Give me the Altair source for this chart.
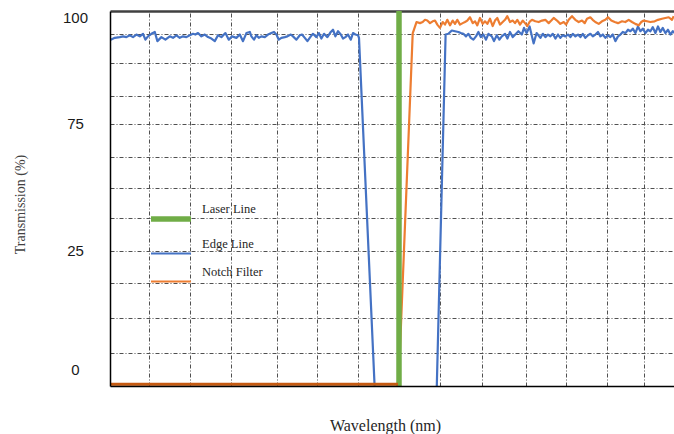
import altair as alt
import pandas as pd

# ---------------- data ----------------
series_names = ["Laser Line", "Edge Line", "Notch Filter"]
series_colors = ["#70AD47", "#4472C4", "#ED7D31"]

laser_line = [(544.5, 0.0), (544.5, 102.0)]

edge_left = [
    (400.4, 94.2), (402.4, 94.7), (404.9, 94.9), (406.5, 95.1), (408.2, 94.9), (409.9, 95.4),
    (411.5, 94.9), (413.2, 95.6), (414.9, 95.1), (416.5, 95.8), (417.7, 94.2), (419.0, 95.1),
    (420.7, 95.8), (422.4, 96.3), (423.7, 93.8), (425.7, 94.9), (427.7, 94.2), (429.9, 95.1),
    (431.5, 94.7), (433.2, 95.4), (434.9, 94.7), (436.5, 95.1), (438.2, 94.9), (439.9, 95.4),
    (441.5, 95.8), (442.7, 95.6), (444.0, 96.0), (445.7, 95.1), (447.4, 95.6), (449.0, 94.9),
    (450.7, 94.5), (452.4, 93.8), (454.0, 95.4), (455.7, 94.9), (457.7, 96.0), (459.4, 94.2),
    (461.0, 95.1), (463.2, 94.7), (464.9, 95.6), (466.5, 93.8), (468.2, 96.0), (469.9, 96.3),
    (470.7, 95.1), (472.0, 94.2), (473.2, 95.4), (474.4, 94.7), (475.7, 95.1), (477.4, 94.9),
    (479.0, 95.6), (480.7, 96.0), (482.0, 96.3), (483.2, 95.6), (484.4, 94.2), (485.7, 94.7),
    (487.4, 94.9), (488.7, 95.1), (490.4, 95.6), (491.5, 95.1), (493.2, 94.2), (494.9, 95.4),
    (496.0, 95.6), (497.4, 94.7), (498.7, 93.8), (500.4, 95.1), (501.5, 95.8), (503.2, 94.9),
    (504.4, 96.0), (505.7, 94.5), (507.0, 95.8), (508.7, 94.9), (510.4, 96.3), (511.5, 96.9),
    (512.7, 95.1), (514.0, 96.5), (515.4, 95.6), (516.5, 94.5), (517.7, 94.9), (519.0, 95.6),
    (520.4, 94.2), (521.5, 96.0), (522.7, 95.6), (524.0, 95.4), (524.5, 94.7), (532.3, 0.0),
]

edge_right = [
    (563.4, 0.0), (567.8, 95.6), (569.2, 95.8), (570.9, 96.7), (572.5, 96.5), (574.2, 96.3),
    (575.4, 96.0), (576.7, 95.8), (578.0, 95.1), (579.2, 95.8), (580.4, 94.7), (581.7, 94.2),
    (583.0, 95.1), (584.2, 96.3), (585.4, 94.9), (586.7, 95.6), (588.0, 94.2), (589.2, 95.8),
    (590.9, 95.1), (592.0, 93.8), (593.4, 95.4), (594.7, 94.2), (595.9, 95.1), (597.5, 95.8),
    (598.7, 94.5), (600.0, 96.3), (601.4, 94.9), (603.0, 95.8), (604.2, 96.5), (605.9, 95.6),
    (607.0, 97.4), (608.3, 96.0), (609.8, 97.8), (611.8, 93.2), (613.3, 96.0), (615.2, 94.7),
    (616.4, 95.8), (617.7, 94.9), (619.0, 95.6), (620.2, 95.1), (621.4, 95.8), (622.7, 94.5),
    (624.0, 95.6), (625.2, 94.7), (626.4, 95.4), (627.7, 95.1), (629.0, 95.6), (630.2, 94.9),
    (631.4, 95.8), (632.7, 95.1), (634.0, 95.6), (635.2, 94.9), (636.4, 95.8), (637.7, 94.7),
    (639.0, 95.4), (640.2, 95.8), (641.4, 95.1), (642.7, 95.6), (644.0, 96.3), (645.2, 95.1),
    (646.4, 95.6), (647.7, 94.7), (649.0, 95.4), (650.2, 94.9), (651.4, 95.6), (652.7, 93.8),
    (654.0, 95.1), (655.2, 95.6), (656.4, 96.3), (657.7, 96.0), (659.0, 96.9), (660.2, 96.5),
    (661.4, 97.2), (662.7, 96.0), (664.0, 97.8), (665.2, 96.5), (666.4, 97.2), (667.7, 96.0),
    (669.0, 96.9), (670.2, 96.5), (671.4, 97.6), (672.7, 96.0), (674.0, 97.8), (675.2, 96.3),
    (676.4, 97.4), (677.7, 96.0), (679.0, 96.9), (680.2, 95.6), (681.4, 96.5), (682.0, 96.0),
]

notch = [
    (400.5, 0.5), (544.3, 0.5), (551.35, 95.9), (553.25, 99.0), (555.0, 98.7), (556.35, 99.0),
    (557.5, 99.6), (558.65, 99.4), (560.0, 98.7), (561.35, 99.2), (562.5, 99.4), (563.65, 98.3),
    (565.0, 97.4), (566.35, 99.0), (567.5, 98.3), (568.65, 99.6), (570.0, 98.1), (571.35, 99.4),
    (572.5, 98.5), (573.65, 99.6), (575.0, 98.3), (576.35, 98.7), (577.5, 99.0), (578.65, 99.4),
    (580.0, 100.3), (581.35, 98.7), (582.5, 99.2), (583.65, 98.1), (585.0, 100.1), (586.35, 98.5),
    (587.5, 99.2), (588.65, 98.5), (590.0, 99.9), (591.35, 97.9), (592.5, 99.4), (593.65, 100.1),
    (595.0, 98.3), (596.35, 99.0), (597.5, 99.6), (598.65, 100.6), (600.0, 99.0), (601.35, 99.4),
    (602.5, 98.7), (603.65, 99.6), (605.0, 98.3), (606.35, 99.4), (607.5, 98.7), (608.65, 97.9),
    (610.0, 99.2), (611.0, 99.6), (612.65, 99.2), (614.35, 99.0), (616.0, 99.4), (617.65, 99.6),
    (619.35, 98.7), (620.65, 99.4), (621.85, 100.1), (623.5, 99.4), (625.15, 98.5), (626.85, 99.0),
    (628.0, 98.3), (629.35, 99.6), (631.0, 100.6), (632.65, 99.6), (634.35, 99.0), (636.0, 99.4),
    (637.35, 98.7), (638.5, 99.9), (640.15, 100.3), (641.35, 99.6), (642.65, 99.0), (644.35, 98.5),
    (646.0, 99.2), (647.65, 99.6), (649.0, 100.3), (650.65, 99.4), (652.35, 99.0), (654.0, 98.7),
    (656.0, 99.2), (657.65, 99.0), (659.35, 99.6), (661.0, 99.0), (662.65, 98.5), (664.35, 98.1),
    (665.65, 99.0), (666.85, 99.4), (668.5, 99.2), (670.15, 99.0), (672.35, 99.2), (674.0, 99.6),
    (676.0, 99.9), (677.65, 100.1), (679.35, 100.3), (681.0, 99.6), (681.85, 100.6),
]

notch_blocked = [(400.5, 0.5), (544.0, 0.5)]

grid_x = [419.5, 440, 460.5, 483.5, 503.5, 524, 544.5, 565, 586, 608, 628, 648.5, 667]
grid_y = [95.7, 87.8, 78.8, 71.3, 62.4, 53.8, 45.6, 36.8, 28.1, 18.4, 9.1]
y_tick_values = [100.3, 71.5, 36.8, 4.4]
y_tick_labels = ["100", "75", "25", "0"]

# ---------------- tables ----------------
rows = []
for name, part, pts in [("Edge Line", "a", edge_left), ("Edge Line", "b", edge_right),
                        ("Notch Filter", "a", notch), ("Laser Line", "a", laser_line)]:
    for wl, tr in pts:
        rows.append({"series": name, "part": part, "wavelength": wl, "transmission": tr})
df = pd.DataFrame(rows)
df_block = pd.DataFrame([{"wavelength": w, "transmission": t} for w, t in notch_blocked])

label_expr = "''"
for v, lab in zip(y_tick_values, y_tick_labels):
    label_expr = f"abs(datum.value - {v}) < 0.01 ? '{lab}' : ({label_expr})"

x_scale = alt.Scale(domain=[400, 682], nice=False, zero=False)
y_scale = alt.Scale(domain=[0, 102], nice=False, zero=False)

legend = alt.Legend(
    title=None, orient="none", legendX=48, legendY=185, padding=0,
    symbolType="M-2,1L2,1", symbolSize=400,
    labelFont="Liberation Serif", labelFontSize=12.5, labelColor="#262626",
    labelOffset=18, rowPadding=2, labelBaseline="middle",
)

lines = alt.Chart(df).mark_line(strokeJoin="round").encode(
    x=alt.X("wavelength:Q", scale=x_scale, axis=alt.Axis(
        orient="bottom", grid=False, labels=False, ticks=False, domain=True,
        domainColor="#000000", domainWidth=1.5, zindex=1,
        title="Wavelength (nm)", titleFont="Liberation Serif", titleFontSize=16,
        titleFontWeight="normal", titleColor="#262626", titleX=275, titleY=39,
        titleAlign="center", titleBaseline="middle")),
    y=alt.Y("transmission:Q", scale=y_scale, axis=alt.Axis(
        orient="left", values=y_tick_values, labelExpr=label_expr, grid=False,
        ticks=False, tickSize=0, labelPadding=35, labelAlign="center",
        labelFont="Liberation Sans", labelFontSize=15, labelColor="#1a1a1a",
        domain=True, domainColor="#000000", domainWidth=1.5, zindex=1,
        title="Transmission (%)", titleFont="Liberation Serif", titleFontSize=14,
        titleFontWeight="normal", titleColor="#404040", titleAngle=270,
        titleX=-90, titleY=193, titleAlign="center", titleBaseline="middle")),
    color=alt.Color("series:N", scale=alt.Scale(domain=series_names, range=series_colors), legend=legend),
    strokeWidth=alt.StrokeWidth("series:N", scale=alt.Scale(type="ordinal", domain=series_names, range=[5.5, 2.2, 2.2]), legend=legend),
    detail="part:N",
)

block = alt.Chart(df_block).mark_line(color="#C55A11", strokeWidth=3).encode(
    x=alt.X("wavelength:Q", scale=x_scale, axis=alt.Axis(
        orient="top", values=grid_x, grid=True, gridColor="#505050", gridDash=[4, 2, 1, 2],
        gridWidth=1, labels=False, ticks=False, domain=True, domainColor="#404040",
        domainWidth=2.5, title=None)),
    y=alt.Y("transmission:Q", scale=y_scale, axis=alt.Axis(
        orient="left", values=grid_y, grid=True, gridColor="#505050", gridDash=[4, 2, 1, 2],
        gridWidth=1, labels=False, ticks=False, domain=False, title=None)),
)

chart = alt.layer(lines, block).resolve_axis(x="independent", y="independent").properties(
    width=564, height=375,
    padding={"left": 110, "top": 11, "right": 0, "bottom": 48},
    autosize=alt.AutoSizeParams(type="none"),
    background="white",
).configure_view(stroke=None)

chart.save("out.html", embed_options={"renderer": "svg", "actions": False})
